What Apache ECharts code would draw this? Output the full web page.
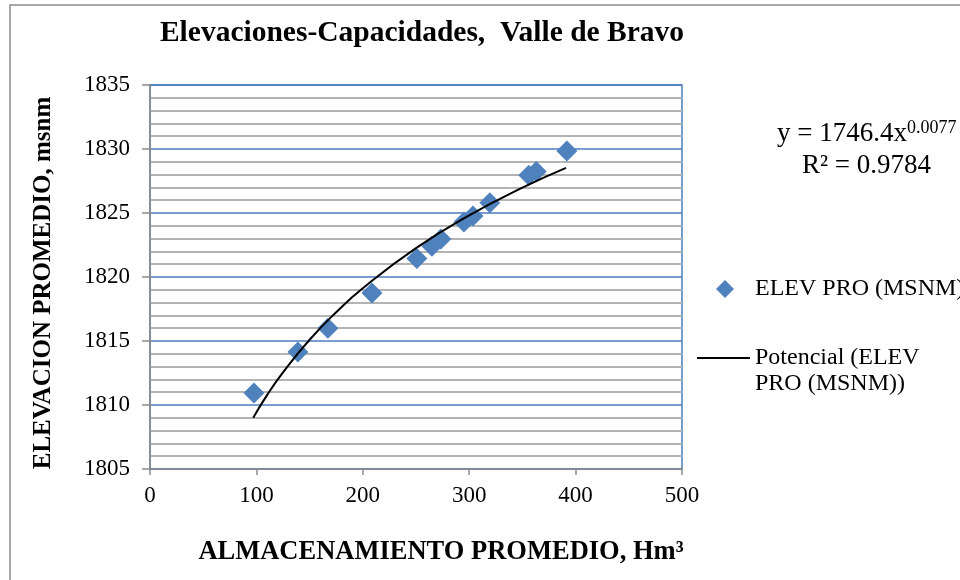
<!DOCTYPE html>
<html>
<head>
<meta charset="utf-8">
<script src="https://cdn.jsdelivr.net/npm/echarts@6/dist/echarts.min.js"></script>
<style>html,body{margin:0;padding:0;background:#fff}#c{width:960px;height:580px}</style>
</head>
<body>
<div id="c"></div>
<script>
const storage = [97.7, 139, 167.2, 208.6, 250.8, 265, 273.4, 295, 303.5, 319.4, 356, 363, 391.8];
const elevation = [1810.94, 1814.14, 1816.0, 1818.75, 1821.45, 1822.4, 1822.97, 1824.3, 1824.77, 1825.8, 1827.95, 1828.25, 1829.84];
const trendX = [97, 110, 125, 150, 175, 200, 250, 300, 350, 391];
const trendY = [1809.0, 1810.77, 1812.55, 1815.10, 1817.25, 1819.12, 1822.25, 1824.81, 1826.98, 1828.53];
const seriesNames = ['ELEV PRO (MSNM)', 'Potencial (ELEV\nPRO (MSNM))'];
const titleText = 'Elevaciones-Capacidades,  Valle de Bravo';
const xTitle = 'ALMACENAMIENTO PROMEDIO, Hm³';
const yTitle = 'ELEVACION PROMEDIO, msnm';

const FONT = '"Liberation Serif", "DejaVu Serif", serif';
const chart = echarts.init(document.getElementById('c'), null, {renderer: 'canvas'});
chart.setOption({
  backgroundColor: '#fff',
  animation: false,
  title: {
    text: titleText,
    left: 417, top: 13, textAlign: 'center',
    textStyle: {fontFamily: FONT, fontWeight: 'bold', fontSize: 29.5, color: '#000'}
  },
  grid: {left: 150, right: 278, top: 85, bottom: 111, show: true, borderColor: '#4a7ebb', borderWidth: 1.5, backgroundColor: 'transparent'},
  xAxis: {
    type: 'value', min: 0, max: 500, interval: 100,
    name: xTitle, nameLocation: 'middle', nameGap: 70,
    nameTextStyle: {fontFamily: FONT, fontWeight: 'bold', fontSize: 26.5, color: '#000', padding: [0, 0, 0, 50]},
    axisLine: {show: true, lineStyle: {color: '#8c8c8c', width: 1.5}},
    axisTick: {show: true, inside: false, length: 6, lineStyle: {color: '#8c8c8c', width: 1.5}},
    axisLabel: {fontFamily: FONT, fontSize: 23, color: '#000', margin: 15, formatter: v => String(v)},
    splitLine: {show: false}
  },
  yAxis: {
    type: 'value', min: 1805, max: 1835, interval: 5,
    name: yTitle, nameLocation: 'middle', nameGap: 94, nameRotate: 90,
    nameTextStyle: {fontFamily: FONT, fontWeight: 'bold', fontSize: 25, color: '#000', padding: [0, 12, 0, 0]},
    axisLine: {show: true, lineStyle: {color: '#8c8c8c', width: 1.5}},
    axisTick: {show: true, inside: false, length: 8, lineStyle: {color: '#8c8c8c', width: 1.5}},
    axisLabel: {fontFamily: FONT, fontSize: 23, color: '#000', margin: 20, formatter: v => String(v)},
    splitLine: {show: true, lineStyle: {color: '#4a7ebb', width: 1.5}},
    minorTick: {show: false, splitNumber: 5},
    minorSplitLine: {show: true, lineStyle: {color: '#b3b3b3', width: 2}}
  },
  legend: [
    {
      orient: 'vertical', left: 711, top: 272,
      itemWidth: 18, itemHeight: 18,
      textStyle: {fontFamily: FONT, fontSize: 24, color: '#000', padding: [0, 0, 0, 16]},
      data: [{name: seriesNames[0], icon: 'diamond', itemStyle: {color: '#4f81bd', opacity: 1}}]
    },
    {
      orient: 'vertical', left: 692, top: 314,
      itemWidth: 53, itemHeight: 2, itemGap: 0,
      formatter: name => ' \n' + name,
      textStyle: {fontFamily: FONT, fontSize: 24, color: '#000', lineHeight: 26, padding: [0, 0, 0, 0]},
      data: [{name: seriesNames[1], icon: 'rect', itemStyle: {color: '#000'}}]
    }
  ],
  series: [
    {
      name: seriesNames[0], type: 'scatter', symbol: 'diamond', symbolSize: 21,
      itemStyle: {color: '#4f81bd', opacity: 1},
      data: storage.map((x, i) => [x, elevation[i]]), z: 3
    },
    {
      name: seriesNames[1], type: 'line', smooth: true, showSymbol: false, symbol: 'none',
      lineStyle: {color: '#000', width: 2},
      data: trendX.map((x, i) => [x, trendY[i]]), z: 4
    }
  ],
  graphic: [
    {type: 'rect', shape: {x: 10, y: 5, width: 1200, height: 1200}, style: {fill: 'none', stroke: '#8c8c8c', lineWidth: 1.5}, silent: true},
    {type: 'text', x: 777, y: 134, style: {
      text: '{a|y = 1746.4x}{b|0.0077}', verticalAlign: 'middle', rich: {
        a: {fontFamily: FONT, fontSize: 27, color: '#000'},
        b: {fontFamily: FONT, fontSize: 18, color: '#000', verticalAlign: 'top', padding: [0, 0, 12, 0]}
      }}},
    {type: 'text', x: 802, y: 166, style: {text: 'R² = 0.9784', fontFamily: FONT, fontSize: 27, fill: '#000', verticalAlign: 'middle'}}
  ]
});
</script>
</body>
</html>
